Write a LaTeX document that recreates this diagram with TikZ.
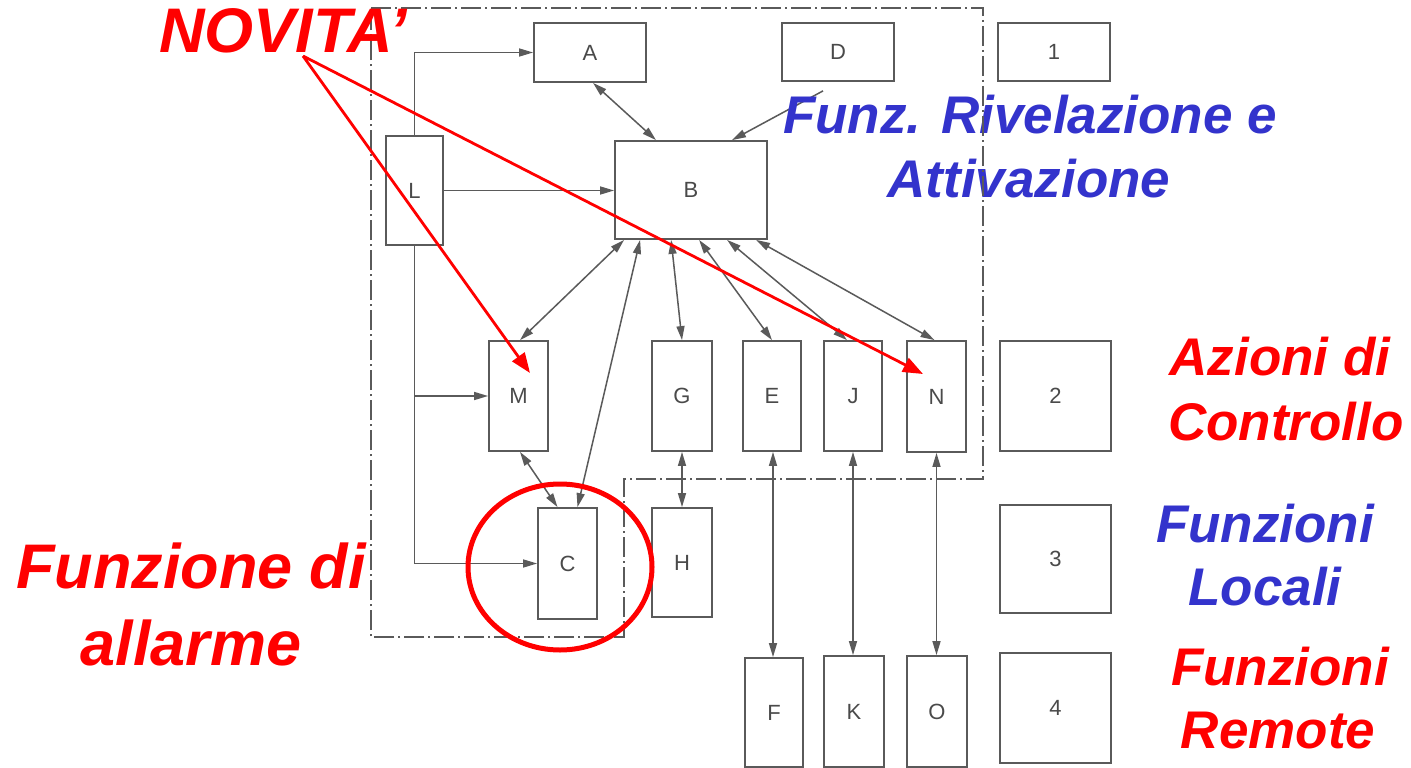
\documentclass[tikz,border=0pt]{standalone}
\usepackage{fontspec}
\setmainfont{Liberation Sans}
\usetikzlibrary{arrows.meta,calc}
\definecolor{ln}{HTML}{5A5A5A}
\definecolor{tx}{HTML}{4A4A4A}
\definecolor{rd}{HTML}{FF0000}
\definecolor{bl}{HTML}{3333CC}
\tikzset{
  box/.style={draw=ln, line width=1.8pt, inner sep=0pt, text=tx,
    font=\fontsize{22}{22}\selectfont},
  conn/.style={draw=ln, line width=1.5pt, -{Triangle[length=14pt,width=8pt]}},
  dconn/.style={draw=ln, line width=1.5pt,
    {Triangle[length=14pt,width=8pt]}-{Triangle[length=14pt,width=8pt]}},
  redarr/.style={draw=rd, line width=2.8pt, -{Triangle[length=20pt,width=15pt]}},
  annbig/.style={inner sep=0pt, anchor=base, font=\fontsize{63}{63}\selectfont\bfseries\itshape},
  ann/.style={inner sep=0pt, anchor=base, font=\fontsize{53}{53}\selectfont\bfseries\itshape},
  boundary/.style={draw=ln, line width=1.5pt, dash pattern=on 20pt off 4pt on 2pt off 4pt},
}
\begin{document}
\begin{tikzpicture}[x=1pt,y=-1pt]
\useasboundingbox (0,0) rectangle (1411,768);
\fill[white] (0,0) rectangle (1411,768);

% boxes
\node[box, minimum width=112pt, minimum height=59pt] (A) at (590,52.5) {A};
\node[box, minimum width=112pt, minimum height=58pt] (D) at (838,52) {D};
\node[box, minimum width=112pt, minimum height=58pt] (b1) at (1054,52) {1};
\node[box, minimum width=57pt, minimum height=109pt] (L) at (414.5,190.5) {L};
\node[box, minimum width=152pt, minimum height=98pt] (B) at (691,190) {B};
\node[box, minimum width=59pt, minimum height=110pt] (M) at (518.5,396) {M};
\node[box, minimum width=60pt, minimum height=110pt] (G) at (682,396) {G};
\node[box, minimum width=58pt, minimum height=110pt] (E) at (772,396) {E};
\node[box, minimum width=58pt, minimum height=110pt] (J) at (853,396) {J};
\node[box, minimum width=59pt, minimum height=111pt] (N) at (936.5,396.5) {N};
\node[box, minimum width=111pt, minimum height=110pt] (b2) at (1055.5,396) {2};
\node[box, minimum width=59pt, minimum height=111pt] (C) at (567.5,563.5) {C};
\node[box, minimum width=60pt, minimum height=109pt] (H) at (682,562.5) {H};
\node[box, minimum width=111pt, minimum height=108pt] (b3) at (1055.5,559) {3};
\node[box, minimum width=58pt, minimum height=109pt] (F) at (774,712.5) {F};
\node[box, minimum width=60pt, minimum height=111pt] (K) at (854,711.5) {K};
\node[box, minimum width=60pt, minimum height=111pt] (O) at (937,711.5) {O};
\node[box, minimum width=111pt, minimum height=110pt] (b4) at (1055.5,708) {4};

% connectors from L
\draw[conn] (L.north) |- (A.west);
\draw[conn] (L.east) -- (L.east -| B.west);
\draw[conn] (L.south) |- (C.west);
\draw[conn] (L.south |- M.west) -- (M.west);

% connectors to B
\draw[dconn] ([xshift=3pt]A.south) -- ([xshift=-35pt]B.north);
\draw[conn] ([xshift=-15pt,yshift=-9pt]D.south) -- ([xshift=41pt]B.north);
\draw[dconn] ([xshift=10pt]B.south west) -- ([xshift=1.5pt]M.north);
\draw[dconn] ([xshift=26pt]B.south west) -- ([xshift=10pt]C.north);
\draw[dconn] ([xshift=1.5pt]M.south) -- ([xshift=-10pt]C.north);
\draw[dconn] ([xshift=57pt]B.south west) -- (G.north);
\draw[dconn] ([xshift=85pt]B.south west) -- (E.north);
\draw[dconn] ([xshift=113pt]B.south west) -- ([xshift=-6pt]J.north);
\draw[dconn] ([xshift=142pt]B.south west) -- ([xshift=-2pt]N.north);

% vertical links
\draw[dconn] (G.south) -- (H.north);
\draw[dconn] ([xshift=1pt]E.south) -- ([xshift=1pt]E.south |- F.north);
\draw[dconn] (J.south) -- (J.south |- K.north);
\draw[dconn] (N.south) -- (N.south |- O.north);

% blue texts
\node[ann, text=bl] (t1) at (1030,133) {Funz. Rivelazione e};
\node[ann, text=bl] (t2) at (1029,197) {Attivazione};
\node[ann, text=bl] (t5) at (1265,542) {Funzioni};
\node[ann, text=bl] (t6) at (1265,605) {Locali};

% boundary
\draw[boundary] (371,8) -- (983,8) -- (983,479) -- (624,479) -- (624,637) -- (371,637) -- cycle;

% red texts
\node[ann, text=rd] (t3) at (1280,375) {Azioni di};
\node[ann, text=rd] (t4) at (1286,440) {Controllo};
\node[ann, text=rd] (t7) at (1280,685) {Funzioni};
\node[ann, text=rd] (t8) at (1278,748) {Remote};
\node[annbig, text=rd] (t9) at (191,588) {Funzione di};
\node[annbig, text=rd] (t10) at (191,665) {allarme};
\node[annbig, text=rd] (nov) at (283,53) {NOVITA’};

% red annotations
\coordinate (novp) at (303,56);
\draw[redarr] (novp) -- ([xshift=11.5pt,yshift=23pt]M.center);
\draw[redarr] (novp) -- ([xshift=-13.5pt,yshift=22.5pt]N.center);
\draw[rd, line width=5pt] (560,567) ellipse [x radius=92pt, y radius=83pt];
\end{tikzpicture}
\end{document}
